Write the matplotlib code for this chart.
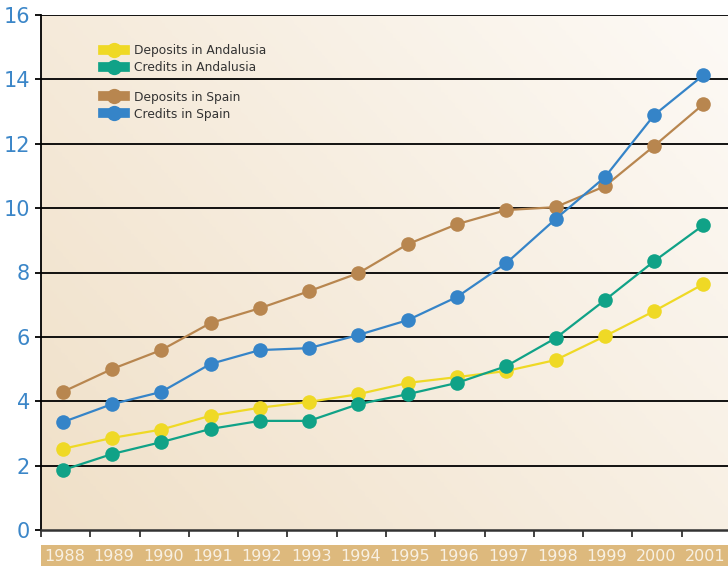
import numpy as np
import matplotlib
matplotlib.use("Agg")
import matplotlib.pyplot as plt
from matplotlib.lines import Line2D
from matplotlib.colors import LinearSegmentedColormap

YEARS = ["1988", "1989", "1990", "1991", "1992", "1993", "1994",
         "1995", "1996", "1997", "1998", "1999", "2000", "2001"]
DEPOSITS_ANDALUSIA = [2.52, 2.86, 3.12, 3.55, 3.8, 3.98, 4.22,
                      4.57, 4.75, 4.94, 5.28, 6.02, 6.8, 7.64]
CREDITS_ANDALUSIA = [1.86, 2.36, 2.73, 3.14, 3.39, 3.39, 3.91,
                     4.22, 4.57, 5.09, 5.96, 7.14, 8.35, 9.47]
DEPOSITS_SPAIN = [4.29, 5.0, 5.59, 6.43, 6.89, 7.42, 7.98,
                  8.88, 9.5, 9.94, 10.03, 10.68, 11.93, 13.23]
CREDITS_SPAIN = [3.35, 3.91, 4.29, 5.16, 5.59, 5.65, 6.06,
                 6.52, 7.24, 8.29, 9.66, 10.96, 12.89, 14.13]

series = [
    ("Deposits in Andalusia", DEPOSITS_ANDALUSIA, "#efd925"),
    ("Credits in Andalusia", CREDITS_ANDALUSIA, "#10a287"),
    ("Deposits in Spain", DEPOSITS_SPAIN, "#b8864f"),
    ("Credits in Spain", CREDITS_SPAIN, "#3584c8"),
]

W, H = 728, 567
fig = plt.figure(figsize=(W / 100, H / 100), dpi=100)
fig.patch.set_facecolor("white")

# main axes: left 41px, right ~731px (runs past edge), top 15px, bottom 530px
ax = fig.add_axes([41 / W, (H - 530) / H, 690 / W, 515 / H])
x = np.arange(len(YEARS)) + 0.44
ax.set_xlim(0, len(YEARS))
ax.set_ylim(0, 16)

# gradient background
grad = LinearSegmentedColormap.from_list("bg", ["#f0e0c8", "#fdfaf6"])
gx, gy = np.meshgrid(np.linspace(0, 1, 200), np.linspace(0, 1, 200))
ax.imshow(0.6 * gx + 0.4 * gy, cmap=grad, extent=[0, len(YEARS), 0, 16],
          origin="lower", aspect="auto", zorder=0)

for yv in range(2, 17, 2):
    ax.axhline(yv, color="black", lw=1.3, zorder=1)

for name, vals, col in series:
    ax.plot(x, vals, color=col, lw=1.6, marker="o", ms=10.5,
            markeredgewidth=0, zorder=3)

ax.set_yticks(range(0, 17, 2))
ax.tick_params(axis="y", colors="black", labelcolor="#3b86c8",
               labelsize=15, length=4, width=1.3, pad=4)
ax.set_xticks(np.arange(0, len(YEARS) + 1))
ax.set_xticklabels([])
ax.tick_params(axis="x", length=5, width=1.3, color="#333333")
for s in ["top", "right"]:
    ax.spines[s].set_visible(False)
ax.spines["left"].set_linewidth(1.3)
ax.spines["bottom"].set_linewidth(1.8)
ax.spines["bottom"].set_color("#333333")

# legends
def handles(items):
    return [Line2D([0], [0], color=c, lw=7, marker="o", ms=11,
                   markeredgewidth=0) for _, _, c in items]

leg_kw = dict(loc="upper left", frameon=False, fontsize=8.8,
              handlelength=1.8, labelspacing=0.32, handletextpad=0.8,
              borderpad=0.3)
leg1 = ax.legend(handles(series[:2]), [s[0] for s in series[:2]],
                 bbox_to_anchor=(0.075, 0.962), **leg_kw)
for t in leg1.get_texts():
    t.set_color("#333333")
ax.add_artist(leg1)
leg2 = ax.legend(handles(series[2:]), [s[0] for s in series[2:]],
                 bbox_to_anchor=(0.075, 0.872), **leg_kw)
for t in leg2.get_texts():
    t.set_color("#333333")

# tan band with year labels
band = fig.add_axes([41 / W, (H - 566) / H, 690 / W, 21 / H], sharex=ax)
band.set_facecolor("#ddb97d")
band.set_ylim(0, 1)
for s in band.spines.values():
    s.set_visible(False)
band.tick_params(left=False, bottom=False, labelleft=False, labelbottom=False)
for xi, yr in zip(x, YEARS):
    band.text(xi + 0.04, 0.45, yr, ha="center", va="center",
              color="#f8f0e2", fontsize=11.5)

fig.savefig("out.png", dpi=100)
